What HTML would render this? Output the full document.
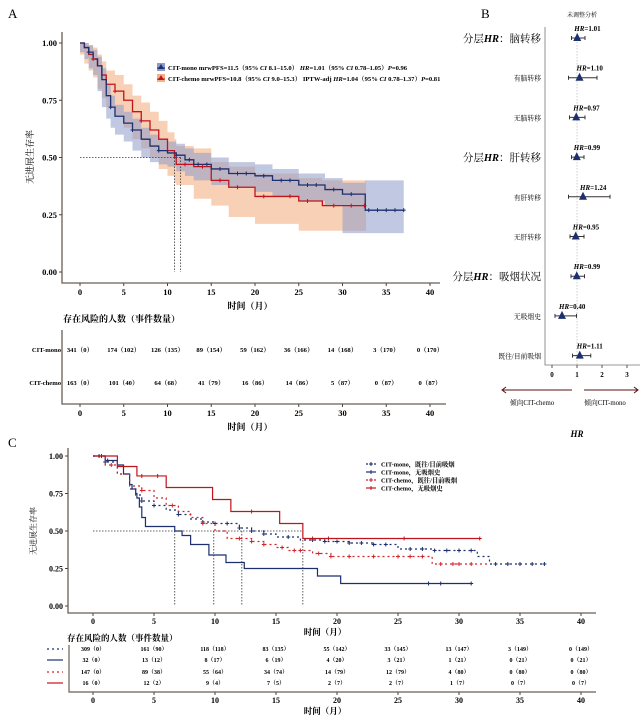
<!DOCTYPE html>
<html><head><meta charset="utf-8">
<style>
body{margin:0;background:#fff;}
svg{display:block;font-family:"Liberation Serif","Noto Serif CJK SC",serif;}
.b{font-weight:bold;}
</style></head>
<body>
<svg id="fig" width="644" height="720" viewBox="0 0 644 720" xmlns="http://www.w3.org/2000/svg">
<g id="gA"></g>
<g id="gB"></g>
<g id="gC"></g>
</svg>
<script>
// ---------- Panel A data ----------
const aMonoT = [0,0.5,1,1.5,2,2.5,3,3.5,4,5,6,7,8,9,10,11,12,13,15,17,20,22,25,28,30,32.6,37];
const aMonoS = [1,0.98,0.96,0.93,0.90,0.84,0.77,0.72,0.68,0.65,0.62,0.58,0.55,0.53,0.52,0.51,0.49,0.47,0.45,0.43,0.42,0.40,0.38,0.36,0.34,0.27,0.27];
const aMonoLo = [1,0.96,0.93,0.89,0.86,0.79,0.72,0.67,0.63,0.60,0.57,0.53,0.50,0.48,0.47,0.46,0.44,0.42,0.40,0.38,0.37,0.35,0.33,0.31,0.29,0.17,0.17];
const aMonoHi = [1,1,0.99,0.97,0.94,0.89,0.82,0.77,0.73,0.70,0.67,0.63,0.60,0.58,0.57,0.56,0.54,0.52,0.50,0.48,0.47,0.45,0.43,0.41,0.39,0.40,0.40];
const aChemoT = [0,0.5,1,1.5,2,2.5,3,4,5,6,7,8,9,10,10.8,11,13,15,17,20,25,27.7,32.7];
const aChemoS = [1,0.98,0.95,0.93,0.90,0.86,0.82,0.79,0.75,0.70,0.66,0.62,0.58,0.53,0.50,0.47,0.46,0.40,0.37,0.33,0.31,0.29,0.29];
const aChemoLo = [1,0.95,0.91,0.88,0.85,0.80,0.76,0.72,0.68,0.63,0.58,0.54,0.50,0.45,0.42,0.39,0.38,0.32,0.29,0.24,0.21,0.18,0.18];
const aChemoHi = [1,1,0.99,0.98,0.95,0.92,0.88,0.86,0.82,0.77,0.74,0.70,0.66,0.61,0.58,0.55,0.54,0.48,0.46,0.43,0.41,0.40,0.40];
const aMonoMedian = 11.5, aChemoMedian = 10.8;
const aTicksX = [0,5,10,15,20,25,30,35,40];
const aTicksY = [0,0.25,0.5,0.75,1.0];
const aTickYLabels = ["0.00","0.25","0.50","0.75","1.00"];
const aRiskMono = ["341（0）","174（102）","126（135）","89（154）","59（162）","36（166）","14（168）","3（170）","0（170）"];
const aRiskChemo = ["163（0）","101（40）","64（68）","41（79）","16（86）","14（86）","5（87）","0（87）","0（87）"];
const aCensorMono = [1,3.5,6,9,11,12.5,13.5,14.5,16,18,19,21,23,24,26,27,29,31,33,34,35,36,37];
const aCensorChemo = [1.5,4,7,12,14,16,18,21,24,26,29,31,32.5];

// ---------- Panel B data ----------
const bLabels = ["分层HR：脑转移","有脑转移","无脑转移","分层HR：肝转移","有肝转移","无肝转移","分层HR：吸烟状况","无吸烟史","既往/目前吸烟"];
const bHeader = [true,false,false,true,false,false,true,false,false];
const bHR = [1.01,1.10,0.97,0.99,1.24,0.95,0.99,0.40,1.11];
const bLo = [0.78,0.66,0.70,0.78,0.66,0.72,0.76,0.12,0.82];
const bHi = [1.32,1.80,1.32,1.28,2.32,1.28,1.30,0.98,1.55];
const bTicks = [0,1,2,3];

// ---------- Panel C data ----------
const cMonoSmkT = [0,1,2,3,3.5,4,5,6,7,8,9,10,12,13,14,15,17,19,21,23,25,28,31.5,32.5,37];
const cMonoSmkS = [1,0.96,0.88,0.78,0.74,0.70,0.67,0.64,0.61,0.58,0.56,0.55,0.52,0.50,0.48,0.46,0.44,0.43,0.42,0.41,0.38,0.37,0.33,0.28,0.28];
const cMonoNeverT = [0,1,2,2.5,3,3.2,3.5,3.6,3.8,4.0,4.3,6.7,7.3,8.0,9.5,10.9,12.4,18.4,20.3,31];
const cMonoNeverS = [1,0.97,0.94,0.88,0.81,0.78,0.75,0.72,0.66,0.59,0.53,0.50,0.47,0.41,0.34,0.29,0.25,0.20,0.15,0.15];
const cChemoSmkT = [0,1,2,3,4,5,6,7,8,9,10,11,13,14,15,16,18,19.5,27.8,32.5];
const cChemoSmkS = [1,0.94,0.88,0.80,0.77,0.72,0.67,0.63,0.59,0.55,0.50,0.45,0.43,0.41,0.39,0.37,0.35,0.33,0.28,0.28];
const cChemoNeverT = [0,2.0,3.6,6.0,9.8,11.3,15.3,17.2,31.7];
const cChemoNeverS = [1,0.93,0.867,0.79,0.71,0.63,0.55,0.45,0.45];
const cMedians = [6.7,9.9,12.2,17.2];
const cTicksX = [0,5,10,15,20,25,30,35,40];
const cTicksY = [0,0.25,0.5,0.75,1.0];
const cTickYLabels = ["0.00","0.25","0.50","0.75","1.00"];
const cRisk1 = ["309（0）","161（90）","118（118）","83（135）","55（142）","33（145）","13（147）","3（149）","0（149）"];
const cRisk2 = ["32（0）","13（12）","8（17）","6（19）","4（20）","3（21）","1（21）","0（21）","0（21）"];
const cRisk3 = ["147（0）","89（38）","55（64）","34（74）","14（79）","12（79）","4（80）","0（80）","0（80）"];
const cRisk4 = ["16（0）","12（2）","9（4）","7（5）","2（7）","2（7）","1（7）","0（7）","0（7）"];
const cCensor1 = [0.5,1,4,5,7,9,10,11,12,13,14,16,18,19,20,21,22,23,24,26,27,28,29,30,31,33,34,35,36,37];
const cCensor2 = [0.7,1.2,27.5,28.5,31];
const cCensor3 = [1.5,4,6.5,9,12,13,14,15.5,16.5,17,18.5,19.5,21,23,25,26,27,28.5,29.5,30,31];
const cCensor4 = [4,5.3,13,18,19.3,25.5,31.7];

const NS="http://www.w3.org/2000/svg";
function mk(parent,tag,attrs,text){
  const e=document.createElementNS(NS,tag);
  for(const k in attrs)e.setAttribute(k,attrs[k]);
  if(text!==undefined)e.textContent=text;
  parent.appendChild(e);return e;
}
function stepD(T,S,xf,yf){
  let d="M"+xf(T[0])+","+yf(S[0]);
  for(let i=1;i<T.length;i++){d+="H"+xf(T[i])+"V"+yf(S[i]);}
  return d;
}
function bandD(T,L,H,xf,yf){
  let d="M"+xf(T[0])+","+yf(H[0]);
  for(let i=1;i<T.length;i++){d+="H"+xf(T[i])+"V"+yf(H[i]);}
  for(let i=T.length-1;i>=1;i--){d+="V"+yf(L[i])+"H"+xf(T[i-1]);}
  d+="V"+yf(L[0])+"Z";return d;
}
function survAt(T,S,t){let s=S[0];for(let i=0;i<T.length;i++){if(T[i]<=t)s=S[i];}return s;}
function cross(p,x,y,col,sz){
  const e=mk(p,"path",{d:`M${x-sz},${y}H${x+sz}M${x},${y-sz}V${y+sz}`,stroke:col,"stroke-width":1});
  return e;
}

// ================= PANEL A =================
(function(){
  const g=document.getElementById("gA");
  const xA=t=>80+t*8.75, yA=s=>272-s*229;
  let t=mk(g,"text",{x:8,y:18,"font-size":13},"A");
  
  
  // bands
  let e=mk(g,"path",{d:bandD(aChemoT,aChemoLo,aChemoHi,xA,yA),fill:"#f4b183","fill-opacity":0.6});
  
  
  e=mk(g,"path",{d:bandD(aMonoT,aMonoLo,aMonoHi,xA,yA),fill:"#8e9ac8","fill-opacity":0.55});
  
  
  // median lines
  e=mk(g,"path",{d:`M${xA(0)},${yA(0.5)}H${xA(aMonoMedian)}M${xA(aMonoMedian)},${yA(0.5)}V${yA(0)}M${xA(aChemoMedian)},${yA(0.5)}V${yA(0)}`,stroke:"#333","stroke-width":0.8,"stroke-dasharray":"1.5,1.5",fill:"none"});
  
  
  // curves
  e=mk(g,"path",{d:stepD(aChemoT,aChemoS,xA,yA),stroke:"#c0141c","stroke-width":1.3,fill:"none"});
  
  
  e=mk(g,"path",{d:stepD(aMonoT,aMonoS,xA,yA),stroke:"#1c2f6e","stroke-width":1.3,fill:"none"});
  
  
  aCensorMono.forEach(c=>{const m=cross(g,xA(c),yA(survAt(aMonoT,aMonoS,c)),"#1c2f6e",2);
    
    });
  aCensorChemo.forEach(c=>{const m=cross(g,xA(c),yA(survAt(aChemoT,aChemoS,c)),"#c0141c",2);
    
    });
  // axes
  e=mk(g,"path",{d:"M62,32V283H440",stroke:"#6b5e55","stroke-width":1.3,fill:"none"});
  
  
  aTicksY.forEach((v,i)=>{mk(g,"line",{x1:59,x2:62,y1:yA(v),y2:yA(v),stroke:"#444"});
    const l=mk(g,"text",{x:57,y:yA(v)+3,"font-size":8.5,"text-anchor":"end",class:"b"},aTickYLabels[i]);
    
    });
  aTicksX.forEach(v=>{mk(g,"line",{x1:xA(v),x2:xA(v),y1:283,y2:286,stroke:"#444"});
    const l=mk(g,"text",{x:xA(v),y:295,"font-size":8.5,"text-anchor":"middle",class:"b"},v);
    
    });
  t=mk(g,"text",{x:0,y:0,"font-size":9,"text-anchor":"middle",transform:"translate(33,157) rotate(-90)"},"无进展生存率");
  
  
  t=mk(g,"text",{x:250,y:309,"font-size":9,"text-anchor":"middle",class:"b"},"时间（月）");
  
  
  // legend
  const leg=mk(g,"g",{});
  
  
  [["#8e9ac8","#1c2f6e",67,"CIT-mono  mrwPFS=11.5（95% ","CI"," 8.1–15.0）  ","HR","=1.01（95% ","CI"," 0.78–1.05）","P","=0.96"],
   ["#f4b183","#c0141c",78,"CIT-chemo  mrwPFS=10.8（95% ","CI"," 9.0–15.3）  IPTW-adj ","HR","=1.04（95% ","CI"," 0.78–1.37）","P","=0.81"]].forEach(r=>{
    mk(leg,"rect",{x:157,y:r[2]-4,width:8,height:8,fill:r[0]});
    mk(leg,"path",{d:`M158,${r[2]+2}L161,${r[2]-3}L164,${r[2]+2}Z`,fill:r[1]});
    mk(leg,"line",{x1:157,x2:165,y1:r[2]+1,y2:r[2]+1,stroke:r[1]});
    const tx=mk(leg,"text",{x:168,y:r[2]+3,"font-size":6.6,class:"b"});
    for(let i=3;i<r.length;i++){const s=mk(tx,"tspan",{}, r[i]);if(r[i]==="CI"||r[i]==="HR"||r[i]==="P")s.setAttribute("font-style","italic");}
    const entry=tx; 
    
  });
  // risk table
  t=mk(g,"text",{x:63,y:322,"font-size":9,class:"b"},"存在风险的人数（事件数量）");
  
  
  e=mk(g,"path",{d:"M62,330V404H446",stroke:"#6b5e55","stroke-width":1.3,fill:"none"});
  
  
  [["CIT-mono",aRiskMono,352],["CIT-chemo",aRiskChemo,385]].forEach(r=>{
    const l=mk(g,"text",{x:61,y:r[2],"font-size":6.6,"text-anchor":"end",class:"b"},r[0]);
    
    
    r[1].forEach((v,i)=>{const c=mk(g,"text",{x:xA(aTicksX[i]),y:r[2],"font-size":6.6,"text-anchor":"middle",class:"b"},v);
      
      });
  });
  aTicksX.forEach(v=>{mk(g,"line",{x1:xA(v),x2:xA(v),y1:404,y2:407,stroke:"#444"});
    const l=mk(g,"text",{x:xA(v),y:416,"font-size":8.5,"text-anchor":"middle",class:"b"},v);
    
    });
  t=mk(g,"text",{x:250,y:430,"font-size":9,"text-anchor":"middle",class:"b"},"时间（月）");
  
  
})();

// ================= PANEL B =================
(function(){
  const g=document.getElementById("gB");
  const xB=v=>552+v*25, yB=i=>38+i*39.7;
  let t=mk(g,"text",{x:481,y:18,"font-size":13},"B");
  
  
  t=mk(g,"text",{x:582,y:17,"font-size":6,"text-anchor":"middle"},"未调整分析");
  
  
  let e=mk(g,"line",{x1:xB(1),x2:xB(1),y1:27,y2:365,stroke:"#bbb","stroke-width":0.7,"stroke-dasharray":"1.5,1.5"});
  
  
  e=mk(g,"path",{d:"M545,27V365H640",stroke:"#777","stroke-width":0.8,fill:"none"});
  
  
  bLabels.forEach((lab,i)=>{
    const y=yB(i);
    let l;
    if(bHeader[i]){
      const parts=lab.split("HR");
      l=mk(g,"text",{x:541,y:y+4,"font-size":10.5,"text-anchor":"end"});
      mk(l,"tspan",{},parts[0]);mk(l,"tspan",{"font-style":"italic","font-weight":"bold"},"HR");mk(l,"tspan",{},parts[1]);
    } else l=mk(g,"text",{x:541,y:y+3,"font-size":6.8,"text-anchor":"end"},lab);
    
    
    const ci=mk(g,"path",{d:`M${xB(bLo[i])},${y}H${xB(bHi[i])}M${xB(bLo[i])},${y-2}V${y+2}M${xB(bHi[i])},${y-2}V${y+2}`,stroke:"#3a3030","stroke-width":1,fill:"none"});
    
    
    const x=xB(bHR[i]);
    const p=mk(g,"path",{d:`M${x-4},${y+3}L${x},${y-5}L${x+4},${y+3}Z`,fill:"#1c2f6e"});
    
    
    const ht=mk(g,"text",{x:x-3,y:y-7,"font-size":7,class:"b"});
    mk(ht,"tspan",{"font-style":"italic"},"HR");mk(ht,"tspan",{},"="+bHR[i].toFixed(2));
    
    
  });
  bTicks.forEach(v=>{mk(g,"line",{x1:xB(v),x2:xB(v),y1:365,y2:368,stroke:"#555"});
    const l=mk(g,"text",{x:xB(v),y:377,"font-size":7,"text-anchor":"middle",class:"b"},v);
    
    });
  e=mk(g,"path",{d:"M572,390H502M506,387L502,390L506,393M584,390H638M634,387L638,390L634,393",stroke:"#5a1010","stroke-width":1,fill:"none"});
  
  
  t=mk(g,"text",{x:532,y:405,"font-size":6.8,"text-anchor":"middle"},"倾向CIT-chemo");
  
  
  t=mk(g,"text",{x:605,y:405,"font-size":6.8,"text-anchor":"middle"},"倾向CIT-mono");
  
  
  t=mk(g,"text",{x:577,y:437,"font-size":9,"text-anchor":"middle","font-style":"italic",class:"b"},"HR");
  
  
})();

// ================= PANEL C =================
(function(){
  const g=document.getElementById("gC");
  const xC=t=>93+t*12.2, yC=s=>606-s*150;
  let t=mk(g,"text",{x:8,y:447,"font-size":13},"C");
  
  
  let e=mk(g,"path",{d:`M${xC(0)},${yC(0.5)}H${xC(17.2)}`+cMedians.map(m=>`M${xC(m)},${yC(0.5)}V${yC(0)}`).join(""),stroke:"#333","stroke-width":0.8,"stroke-dasharray":"1.5,1.5",fill:"none"});
  
  
  const series=[
    [cMonoSmkT,cMonoSmkS,"#1c2f6e","2,3",cCensor1,"curve-mono-smoker"],
    [cMonoNeverT,cMonoNeverS,"#1c2f6e","",cCensor2,"curve-mono-never-smoker"],
    [cChemoSmkT,cChemoSmkS,"#d2242b","2,3",cCensor3,"curve-chemo-smoker"],
    [cChemoNeverT,cChemoNeverS,"#c0141c","",cCensor4,"curve-chemo-never-smoker"]];
  series.forEach(s=>{
    const a={d:stepD(s[0],s[1],xC,yC),stroke:s[2],"stroke-width":1.2,fill:"none"};
    if(s[3])a["stroke-dasharray"]=s[3];
    const p=mk(g,"path",a);
    
    
    s[4].forEach(c=>{const m=cross(g,xC(c),yC(survAt(s[0],s[1],c)),s[2],2);
      
      });
  });
  e=mk(g,"path",{d:"M68,448V613H596",stroke:"#6b5e55","stroke-width":1.3,fill:"none"});
  
  
  cTicksY.forEach((v,i)=>{mk(g,"line",{x1:65,x2:68,y1:yC(v),y2:yC(v),stroke:"#444"});
    const l=mk(g,"text",{x:63,y:yC(v)+3,"font-size":8,"text-anchor":"end",class:"b"},cTickYLabels[i]);
    
    });
  cTicksX.forEach(v=>{mk(g,"line",{x1:xC(v),x2:xC(v),y1:613,y2:616,stroke:"#444"});
    const l=mk(g,"text",{x:xC(v),y:624,"font-size":8,"text-anchor":"middle",class:"b"},v);
    
    });
  t=mk(g,"text",{x:0,y:0,"font-size":8,"text-anchor":"middle",transform:"translate(36,531) rotate(-90)"},"无进展生存率");
  
  
  t=mk(g,"text",{x:325,y:635,"font-size":8.5,"text-anchor":"middle",class:"b"},"时间（月）");
  
  
  // legend
  const legItems=[["#1c2f6e","2,2","CIT-mono，既往/目前吸烟"],["#1c2f6e","","CIT-mono，无吸烟史"],["#d2242b","2,2","CIT-chemo，既往/目前吸烟"],["#c0141c","","CIT-chemo，无吸烟史"]];
  legItems.forEach((it,i)=>{
    const y=464+i*8;
    const a={x1:366,x2:376,y1:y,y2:y,stroke:it[0],"stroke-width":1.2};
    if(it[1])a["stroke-dasharray"]=it[1];
    mk(g,"line",a);
    cross(g,371,y,it[0],2);
    const l=mk(g,"text",{x:381,y:y+2.5,"font-size":6.3,class:"b"},it[2]);
    
    
  });
  // risk table
  t=mk(g,"text",{x:67,y:641,"font-size":8.5,class:"b"},"存在风险的人数（事件数量）");
  
  
  e=mk(g,"path",{d:"M69,645V692H596",stroke:"#6b5e55","stroke-width":1.2,fill:"none"});
  
  
  const rows=[[cRisk1,651,"#1c2f6e","2,3"],[cRisk2,662,"#1c2f6e",""],[cRisk3,674,"#d2242b","2,3"],[cRisk4,685,"#c0141c",""]];
  rows.forEach(r=>{
    const a={x1:47,x2:63,y1:r[1]-2,y2:r[1]-2,stroke:r[2],"stroke-width":1.2};
    if(r[3])a["stroke-dasharray"]=r[3];
    const k=mk(g,"line",a);
    
    
    r[0].forEach((v,i)=>{const c=mk(g,"text",{x:xC(cTicksX[i]),y:r[1],"font-size":6,"text-anchor":"middle",class:"b"},v);
      
      });
  });
  cTicksX.forEach(v=>{mk(g,"line",{x1:xC(v),x2:xC(v),y1:692,y2:695,stroke:"#444"});
    const l=mk(g,"text",{x:xC(v),y:703,"font-size":8,"text-anchor":"middle",class:"b"},v);
    
    });
  t=mk(g,"text",{x:325,y:714,"font-size":8.5,"text-anchor":"middle",class:"b"},"时间（月）");
  
  
})();
</script>
</body></html>
